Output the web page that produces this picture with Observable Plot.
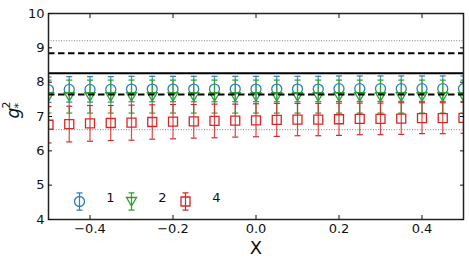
<!DOCTYPE html>
<html>
<head>
<meta charset="utf-8">
<script src="https://cdn.jsdelivr.net/npm/d3@7"></script>
<script src="https://cdn.jsdelivr.net/npm/@observablehq/plot@0.6"></script>
<style>
  html, body { margin: 0; padding: 0; background: #fff; }
  #chart svg { display: block; }
</style>
</head>
<body>
<div id="chart"></div>
<script>
// ---- data ----
const xs = [-0.5, -0.45, -0.4, -0.35, -0.3, -0.25, -0.2, -0.15, -0.1, -0.05, 0, 0.05, 0.1, 0.15, 0.2, 0.25, 0.3, 0.35, 0.4, 0.45, 0.5];
const s1 = [7.78, 7.79, 7.79, 7.79, 7.80, 7.80, 7.80, 7.80, 7.80, 7.80, 7.80, 7.80, 7.80, 7.80, 7.81, 7.81, 7.81, 7.81, 7.81, 7.81, 7.81];
const e1 = [0.37, 0.37, 0.37, 0.37, 0.37, 0.37, 0.37, 0.37, 0.37, 0.37, 0.37, 0.37, 0.37, 0.37, 0.37, 0.37, 0.37, 0.37, 0.37, 0.37, 0.37];
const s2 = [7.58, 7.58, 7.58, 7.58, 7.58, 7.58, 7.58, 7.58, 7.58, 7.58, 7.58, 7.58, 7.58, 7.58, 7.58, 7.58, 7.58, 7.58, 7.58, 7.58, 7.58];
const e2 = [0.48, 0.48, 0.48, 0.48, 0.48, 0.48, 0.48, 0.48, 0.48, 0.48, 0.48, 0.48, 0.48, 0.48, 0.48, 0.48, 0.48, 0.48, 0.48, 0.48, 0.48];
const s4 = [6.76, 6.78, 6.80, 6.81, 6.82, 6.84, 6.85, 6.86, 6.87, 6.88, 6.89, 6.90, 6.91, 6.91, 6.92, 6.93, 6.93, 6.94, 6.95, 6.95, 6.96];
const e4 = [0.53, 0.52, 0.52, 0.51, 0.51, 0.50, 0.50, 0.49, 0.49, 0.48, 0.48, 0.48, 0.47, 0.47, 0.47, 0.46, 0.46, 0.46, 0.45, 0.45, 0.45];
const seriesLabels = ["1", "2", "4"];
const seriesColors = ["#2e7ebf", "#2ca02c", "#d62728"];
const dottedLevels = [9.21, 6.62];
const dashedLevels = [8.84, 7.64];
const solidLevels = [8.26];
const xTicks = [-0.4, -0.2, 0.0, 0.2, 0.4];
const yTicks = [4, 5, 6, 7, 8, 9, 10];

// ---- symbols ----
const circleSym = {draw(ctx, size) { const r = Math.sqrt(size / Math.PI); ctx.moveTo(r, 0); ctx.arc(0, 0, r, 0, 2 * Math.PI); }};
const squareSym = {draw(ctx, size) { const r = Math.sqrt(size / Math.PI) * 0.9; ctx.moveTo(-r, -r); ctx.lineTo(r, -r); ctx.lineTo(r, r); ctx.lineTo(-r, r); ctx.closePath(); }};
const triDownSym = {draw(ctx, size) { const r = Math.sqrt(size / Math.PI); ctx.moveTo(-r, -r * 0.8); ctx.lineTo(r, -r * 0.8); ctx.lineTo(0, r * 0.9); ctx.closePath(); }};
const capSym = {draw(ctx, size) { const w = Math.sqrt(size / Math.PI); ctx.moveTo(-w, 0); ctx.lineTo(w, 0); }};
const legendBarSym = {draw(ctx, size) { const h = Math.sqrt(size / Math.PI); const w = 3; ctx.moveTo(0, -h); ctx.lineTo(0, h); ctx.moveTo(-w, -h); ctx.lineTo(w, -h); ctx.moveTo(-w, h); ctx.lineTo(w, h); }};

const series = [
  {vals: s1, errs: e1, sym: circleSym, color: seriesColors[0]},
  {vals: s2, errs: e2, sym: triDownSym, color: seriesColors[1]},
  {vals: s4, errs: e4, sym: squareSym, color: seriesColors[2]}
];

const marks = [];
// reference lines
marks.push(Plot.ruleY(dottedLevels, {stroke: "#9a9a9a", strokeWidth: 1.2, strokeDasharray: "1,1.6"}));

series.forEach(s => {
  const rows = xs.map((x, i) => ({x, y: s.vals[i], lo: s.vals[i] - s.errs[i], hi: s.vals[i] + s.errs[i]}));
  marks.push(Plot.ruleX(rows, {x: "x", y1: "lo", y2: "hi", stroke: s.color, strokeWidth: 1.2, strokeOpacity: 0.85, clip: "frame"}));
  marks.push(Plot.dot(rows, {x: "x", y: "lo", symbol: capSym, r: 3, stroke: s.color, strokeWidth: 1.2, clip: "frame"}));
  marks.push(Plot.dot(rows, {x: "x", y: "hi", symbol: capSym, r: 3, stroke: s.color, strokeWidth: 1.2, clip: "frame"}));
  marks.push(Plot.dot(rows, {x: "x", y: "y", symbol: s.sym, r: 5, stroke: s.color, fill: "none", strokeWidth: 1.3, clip: "frame"}));
});

marks.push(Plot.ruleY(dashedLevels, {stroke: "#000", strokeWidth: 2, strokeDasharray: "6.5,3.5"}));
marks.push(Plot.ruleY(solidLevels, {stroke: "#000", strokeWidth: 2}));

// legend (inside frame, bottom-left)
const legendDx = [31, 83, 137];
series.forEach((s, i) => {
  marks.push(Plot.dot([seriesLabels[i]], {frameAnchor: "bottom-left", dx: legendDx[i], dy: -18, symbol: legendBarSym, r: 8.7, stroke: s.color, strokeWidth: 1.2}));
  marks.push(Plot.dot([seriesLabels[i]], {frameAnchor: "bottom-left", dx: legendDx[i], dy: -18, symbol: s.sym, r: 5, stroke: s.color, fill: "none", strokeWidth: 1.3}));
  marks.push(Plot.text([seriesLabels[i]], {text: d => d, frameAnchor: "bottom-left", dx: legendDx[i] + 31, dy: -18, fontSize: 13, fill: "#111", textAnchor: "middle"}));
});

// frame and axes
marks.push(Plot.frame({stroke: "#222", strokeWidth: 1.5}));
marks.push(Plot.axisX(xTicks, {anchor: "bottom", tickSize: 0, tickPadding: 4, tickFormat: d3.format(".1f"), label: null, fontSize: 13}));
marks.push(Plot.axisX(xTicks, {anchor: "bottom", tickSize: -4, text: null, label: null}));
marks.push(Plot.axisX(xTicks, {anchor: "top", tickSize: -4, text: null, label: null}));
marks.push(Plot.axisY(yTicks, {anchor: "left", tickSize: 0, tickPadding: 4, tickFormat: d3.format("d"), label: null, fontSize: 13}));
marks.push(Plot.axisY(yTicks, {anchor: "left", tickSize: -4, text: null, label: null}));
marks.push(Plot.axisY(yTicks, {anchor: "right", tickSize: -4, text: null, label: null}));

// axis titles
marks.push(Plot.text(["X"], {frameAnchor: "bottom", dy: 34, fontSize: 18, fill: "#111"}));
marks.push(Plot.text(["g"], {frameAnchor: "left", dx: -35, dy: 2, rotate: -90, fontSize: 17, fontStyle: "italic", fill: "#111"}));
marks.push(Plot.text(["2"], {frameAnchor: "left", dx: -42, dy: -8, rotate: -90, fontSize: 11, fill: "#111"}));
marks.push(Plot.text(["*"], {frameAnchor: "left", dx: -30, dy: -8, rotate: -90, fontSize: 11, fill: "#111"}));

const chart = Plot.plot({
  width: 469,
  height: 264,
  marginLeft: 48,
  marginRight: 6,
  marginTop: 13,
  marginBottom: 45,
  style: {fontFamily: "DejaVu Sans", background: "#fff", color: "#111"},
  x: {domain: [-0.5, 0.5]},
  y: {domain: [4, 10]},
  marks
});
document.getElementById("chart").appendChild(chart);
</script>
</body>
</html>
